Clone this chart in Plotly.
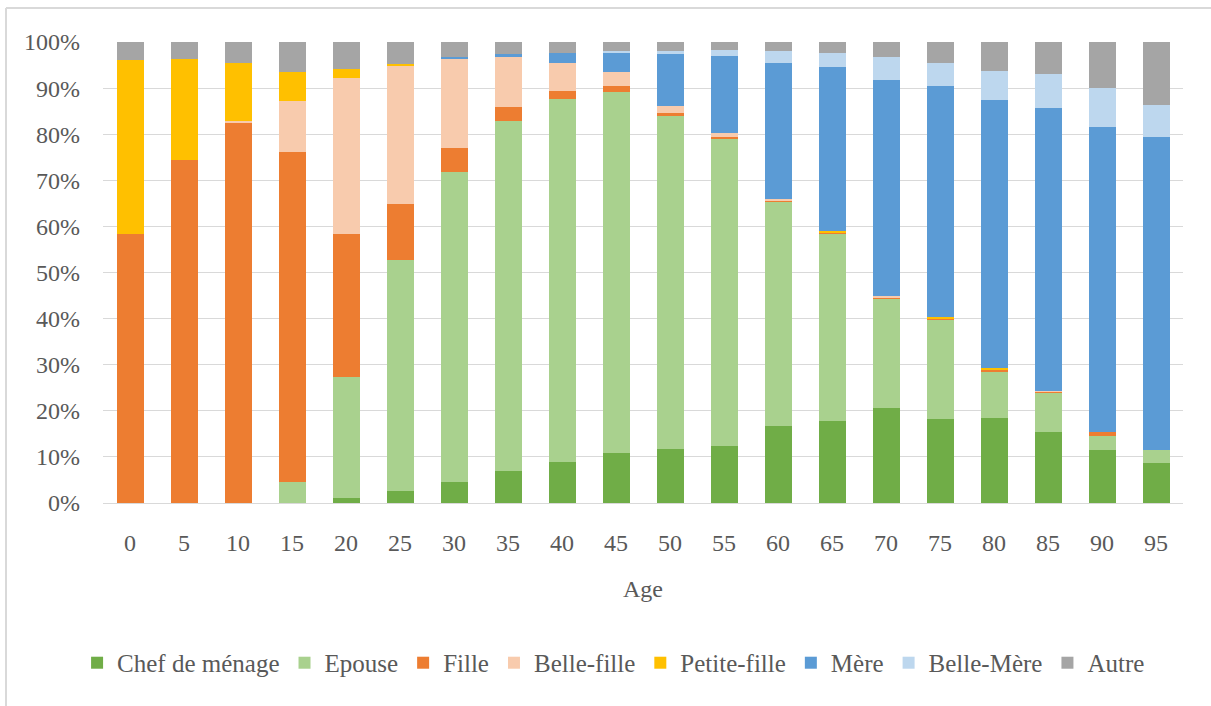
import plotly.graph_objects as go

ages = ["0", "5", "10", "15", "20", "25", "30", "35", "40", "45",
        "50", "55", "60", "65", "70", "75", "80", "85", "90", "95"]

chef_de_menage = [0, 0, 0, 0, 1.0, 2.6, 4.5, 7.0, 8.9, 10.8, 11.8, 12.4, 16.6, 17.8, 20.7, 18.2, 18.4, 15.5, 11.4, 8.6]
epouse = [0, 0, 0, 4.5, 26.3, 50.1, 67.2, 75.8, 78.7, 78.4, 72.2, 66.6, 48.8, 40.6, 23.6, 21.5, 10.2, 8.4, 3.2, 2.8]
fille = [58.4, 74.5, 82.5, 71.6, 31.1, 12.1, 5.4, 3.2, 1.8, 1.2, 0.7, 0.5, 0.3, 0.3, 0.2, 0.3, 0.3, 0.3, 0.9, 0]
belle_fille = [0, 0, 0.3, 11.1, 33.9, 30.1, 19.3, 10.7, 6.0, 3.2, 1.5, 0.7, 0.2, 0, 0.3, 0.1, 0.1, 0.1, 0, 0]
petite_fille = [37.7, 21.9, 12.7, 6.4, 1.9, 0.3, 0, 0, 0, 0, 0, 0, 0, 0.2, 0, 0.2, 0.2, 0, 0, 0]
mere = [0, 0, 0, 0, 0, 0, 0.3, 0.7, 2.3, 4.1, 11.1, 16.8, 29.6, 35.6, 46.9, 50.1, 58.3, 61.4, 66.0, 67.9]
belle_mere = [0, 0, 0, 0, 0, 0, 0, 0, 0, 0.3, 0.7, 1.3, 2.5, 3.2, 5.0, 5.0, 6.2, 7.4, 8.6, 7.0]
autre = [3.9, 3.6, 4.5, 6.4, 5.8, 4.8, 3.3, 2.6, 2.3, 2.0, 2.0, 1.7, 2.0, 2.3, 3.3, 4.6, 6.2, 7.0, 9.9, 13.7]

series = [
    ("Chef de ménage", chef_de_menage, "#70AD47"),
    ("Epouse", epouse, "#A9D18E"),
    ("Fille", fille, "#ED7D31"),
    ("Belle-fille", belle_fille, "#F8CBAD"),
    ("Petite-fille", petite_fille, "#FFC000"),
    ("Mère", mere, "#5B9BD5"),
    ("Belle-Mère", belle_mere, "#BDD7EE"),
    ("Autre", autre, "#A5A5A5"),
]

FONT = "Liberation Serif"
GREY = "#595959"

fig = go.Figure()
for name, vals, col in series:
    fig.add_trace(go.Bar(x=ages, y=vals, name=name, marker=dict(color=col, line=dict(width=0))))

fig.update_layout(
    barmode="stack",
    bargap=0.5,
    width=1211, height=706,
    margin=dict(l=103, r=28, t=42, b=203),
    paper_bgcolor="white", plot_bgcolor="white",
    font=dict(family=FONT, size=24, color=GREY),
    showlegend=True,
    legend=dict(orientation="h", x=-0.024, xanchor="left", y=-0.347, yanchor="middle",
                font=dict(family=FONT, size=25, color=GREY), traceorder="normal"),
    xaxis=dict(title=dict(text="Age", font=dict(family=FONT, size=24, color=GREY), standoff=25),
               tickfont=dict(family=FONT, size=24, color=GREY), showgrid=False,
               showline=True, linecolor="#d9d9d9", linewidth=1, ticks="",
               ticklabelstandoff=18, automargin=False),
    yaxis=dict(range=[0, 100], dtick=10, ticksuffix="%", showgrid=True,
               gridcolor="#d9d9d9", gridwidth=1, zeroline=False, showline=False,
               tickfont=dict(family=FONT, size=24, color=GREY), ticklabelstandoff=22,
               automargin=False),
    shapes=[
        dict(type="line", xref="paper", yref="paper", x0=-0.0898, x1=-0.0898, y0=-0.5, y1=1.0738,
             line=dict(color="#d9d9d9", width=2)),
        dict(type="line", xref="paper", yref="paper", x0=-0.0898, x1=1.1, y0=1.0738, y1=1.0738,
             line=dict(color="#d9d9d9", width=2)),
    ],
)

fig.write_html("out.html", config={"displayModeBar": False},
               post_script="document.body.style.margin='0';")
